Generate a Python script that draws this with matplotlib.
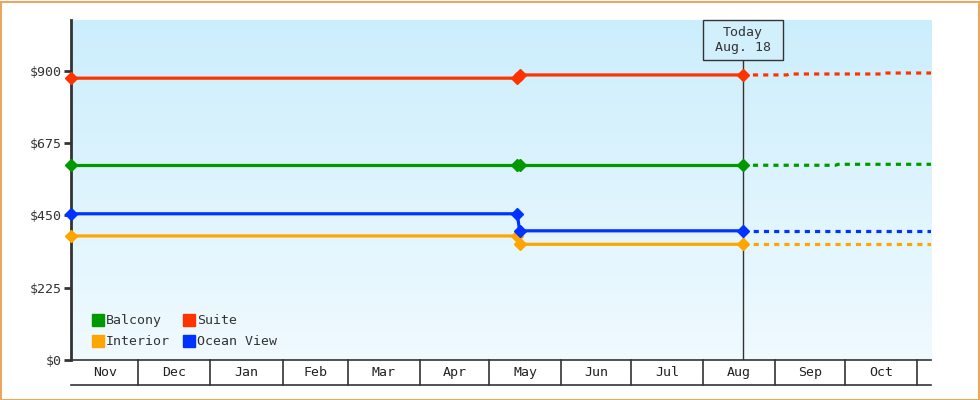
import datetime as dt
import numpy as np
import matplotlib.pyplot as plt
import matplotlib.dates as mdates
import matplotlib.transforms as mtrans

# cabin price history (solid) and forecast (dotted)
d = dt.date
start = d(2024, 11, 2)
end = d(2025, 11, 7)
today = d(2025, 8, 18)

hist_dates = [start, d(2025, 5, 13), d(2025, 5, 14), today]
balcony = [606, 606, 606, 606]
suite = [877, 877, 887, 887]
interior = [386, 386, 360, 360]
ocean_view = [455, 455, 402, 402]

fc_balcony_dates = [today, d(2025, 9, 27), d(2025, 9, 28), end]
fc_balcony = [606, 606, 609, 609]
fc_suite_dates = [today, d(2025, 9, 6), d(2025, 9, 7), d(2025, 10, 17), d(2025, 10, 18), end]
fc_suite = [887, 887, 890, 890, 893, 893]
fc_interior_dates = [today, end]
fc_interior = [360, 360]
fc_ocean_dates = [today, end]
fc_ocean = [401, 401]

months = ["Nov", "Dec", "Jan", "Feb", "Mar", "Apr", "May", "Jun", "Jul", "Aug", "Sep", "Oct"]
yticks = [0, 225, 450, 675, 900]

GREEN = "#009900"
RED = "#ff3300"
ORANGE = "#ffa500"
BLUE = "#0033ff"
DARK = "#333333"

plt.rcParams["font.family"] = "DejaVu Sans Mono"

fig = plt.figure(figsize=(9.8, 4), dpi=100)
ax = fig.add_axes([71 / 980, 40 / 400, 860 / 980, 340 / 400])

# gradient background
grad = np.linspace(0, 1, 256).reshape(-1, 1)
top = np.array([204, 238, 252]) / 255
bot = np.array([240, 250, 255]) / 255
img = top + (bot - top) * grad[..., None]
img = img.reshape(256, 1, 3)
ax.imshow(img, extent=[0, 1, 0, 1], transform=ax.transAxes, aspect="auto", zorder=0)

series = [
    (hist_dates, balcony, fc_balcony_dates, fc_balcony, GREEN),
    (hist_dates, suite, fc_suite_dates, fc_suite, RED),
    (hist_dates, interior, fc_interior_dates, fc_interior, ORANGE),
    (hist_dates, ocean_view, fc_ocean_dates, fc_ocean, BLUE),
]
for hd, hv, fd, fv, c in series:
    ax.plot(fd, fv, color=c, lw=2.3, ls=(0, (1.6, 1.6)), zorder=3, solid_capstyle="butt")
    ax.plot(hd, hv, color=c, lw=2.3, marker="D", ms=6, zorder=4, clip_on=False)

ax.set_xlim(start, end)
ax.set_ylim(0, 1058)

# today marker: box 80x40 px at the top of the plot, line down to the axis
px_day = 860 / (end - start).days
px_val = 340 / 1058
tnum = mdates.date2num(today)
box_bottom = 1058 - 40 / px_val
ax.plot([today, today], [0, box_bottom], color=DARK, lw=1, zorder=2)
ax.add_patch(plt.Rectangle((tnum - 40 / px_day, box_bottom), 80 / px_day, 40 / px_val,
                           fc="#d2f0fc", ec=DARK, lw=1, zorder=5, clip_on=False))
ax.text(today, box_bottom + 20 / px_val, "Today\nAug. 18", ha="center", va="center",
        fontsize=9.5, color=DARK, linespacing=1.25, zorder=6)

# axes styling
for s in ["top", "right"]:
    ax.spines[s].set_visible(False)
ax.spines["left"].set_color(DARK)
ax.spines["left"].set_linewidth(2)
ax.spines["bottom"].set_color(DARK)
ax.spines["bottom"].set_linewidth(1.2)
ax.set_yticks(yticks)
ax.set_yticklabels([f"${v}" for v in yticks])
ax.tick_params(axis="y", length=5, width=2, color=DARK, labelsize=9.5, labelcolor=DARK, pad=2)
ax.set_xticks([])

# month boxes below the axis
trans = mtrans.blended_transform_factory(ax.transData, ax.transAxes)
box_h = 25 / 340
bounds = [start] + [d(2024 + (m + 10) // 12, (m + 10) % 12 + 1, 1) for m in range(1, 13)] + [end]
for b in bounds[1:-1]:
    ax.plot([b, b], [0, -box_h], color=DARK, lw=1.2, transform=trans, clip_on=False)
ax.plot([start, end], [-box_h, -box_h], color=DARK, lw=1.2, transform=trans, clip_on=False)
for i, m in enumerate(months):
    a, b = mdates.date2num(bounds[i]), mdates.date2num(bounds[i + 1])
    if i == 0:
        a = mdates.date2num(d(2024, 11, 1)) + 1
    ax.text((a + b) / 2, -box_h / 2, m, ha="center", va="center", fontsize=9.5,
            color="#222222", transform=trans)

# legend
handles = [plt.Line2D([], [], ls="", marker="s", ms=8, color=c) for c in [GREEN, ORANGE, RED, BLUE]]
labels = ["Balcony", "Interior", "Suite", "Ocean View"]
ax.legend(handles, labels, ncol=2, loc="lower left", bbox_to_anchor=(0.008, 0.0), frameon=False,
          fontsize=9.5, handletextpad=0.0, columnspacing=0.9, labelspacing=0.6,
          handlelength=1.2, labelcolor=DARK)

# orange frame
fig.patches.append(plt.Rectangle((0.5 / 980, 0.5 / 400), 978 / 980, 398 / 400, transform=fig.transFigure,
                                 fill=False, ec="#e8a860", lw=1.5))

fig.savefig("out.png", dpi=100)
